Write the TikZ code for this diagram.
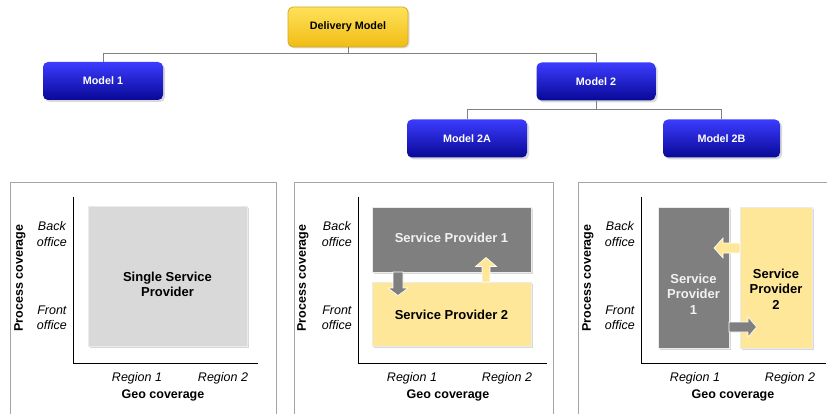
\documentclass[tikz,border=0pt]{standalone}
\usepackage{fontspec}
\setmainfont{Liberation Sans}
\usetikzlibrary{shadows,calc}
\definecolor{bluetop}{RGB}{60,60,255}
\definecolor{bluebot}{RGB}{8,8,150}
\definecolor{goldtop}{RGB}{255,226,90}
\definecolor{goldbot}{RGB}{240,188,20}
\definecolor{golddraw}{RGB}{210,170,40}
\definecolor{spgray}{RGB}{127,127,127}
\definecolor{spyellow}{RGB}{255,231,153}
\definecolor{litegray}{RGB}{217,217,217}
\definecolor{conngray}{RGB}{128,128,128}
\definecolor{framegray}{RGB}{165,165,165}
\begin{document}
\begin{tikzpicture}[x=1pt,y=-1pt,
  modelbox/.style={rectangle, rounded corners=5pt, top color=bluetop, bottom color=bluebot,
    text=white, font=\fontsize{10.8}{12}\selectfont\bfseries, minimum height=38pt,
    drop shadow={shadow xshift=2pt,shadow yshift=-2pt,opacity=0.3}},
  rootbox/.style={rectangle, rounded corners=5pt, top color=goldtop, bottom color=goldbot,
    draw=golddraw, line width=0.8pt, text=black, font=\fontsize{10.8}{12}\selectfont\bfseries,
    minimum width=120pt, minimum height=40pt,
    drop shadow={shadow xshift=1.5pt,shadow yshift=-1.5pt,opacity=0.25}},
  conn/.style={draw=conngray, line width=0.9pt},
  frameline/.style={draw=framegray, line width=0.9pt},
  axisline/.style={draw=black, line width=1pt},
  spbox/.style={rectangle, draw=white!92!black, line width=1pt, inner sep=0pt,
    drop shadow={shadow xshift=1.5pt,shadow yshift=-1.5pt,opacity=0.3}},
  sptext/.style={font=\fontsize{13}{15.5}\selectfont\bfseries, align=center, inner sep=0pt},
  tick/.style={font=\fontsize{12.5}{15.5}\selectfont\itshape, align=center, anchor=east, inner sep=0pt},
  regl/.style={font=\fontsize{12.5}{14}\selectfont\itshape, inner sep=0pt},
  axlab/.style={font=\fontsize{12.5}{14}\selectfont\bfseries, inner sep=0pt},
  blockarrow/.style={draw=white, line width=0.6pt, line join=miter}
]
\useasboundingbox (0,0) rectangle (827,414);

% ---------- tree ----------
\node[rootbox] (dm) at (348,27) {Delivery Model};
\node[modelbox, minimum width=120pt] (m1) at (103,81) {Model 1};
\node[modelbox, minimum width=119pt] (m2) at (596,81.5) {Model 2};
\node[modelbox, minimum width=120pt] (m2a) at (467,138.5) {Model 2A};
\node[modelbox, minimum width=117pt] (m2b) at (721.5,138.5) {Model 2B};

\coordinate (j1) at ($(dm.south)+(0,6)$);
\coordinate (j2) at ($(m2.south)+(0,9)$);
\draw[conn] (dm.south) -- (j1) -| (m1.north);
\draw[conn] (j1) -| (m2.north);
\draw[conn] (m2.south) -- (j2) -| (m2a.north);
\draw[conn] (j2) -| (m2b.north);

% ---------- panel 1 ----------
\draw[frameline] (10,414) -- (10,182) -- (276,182) -- (276,414);
\draw[axisline] (73,197) -- (73,363) -- (258,363);
\node[spbox, fill=litegray, minimum width=159pt, minimum height=139pt] (ssp) at (167.5,276.5) {};
\node[sptext] (ssptxt) at ($(ssp.center)+(0,8)$) {Single Service\\Provider};
\node[tick] (p1back) at (67,234) {Back\\office};
\node[tick] (p1front) at (67,318) {Front\\office};
\node[axlab, rotate=90] (p1pc) at (20,278) {Process coverage};
\node[regl] (p1r1) at (137,378) {Region 1};
\node[regl] (p1r2) at (223,378) {Region 2};
\node[axlab] (p1geo) at (163,395) {Geo coverage};

% ---------- panel 2 ----------
\draw[frameline] (294,414) -- (294,182) -- (553,182) -- (553,414);
\draw[axisline] (358,197) -- (358,363) -- (547,363);
\node[spbox, fill=spgray, minimum width=159pt, minimum height=64pt] (p2sp1) at (451.5,240) {};
\node[sptext, text=white!95!black] (p2sp1txt) at ($(p2sp1.center)+(0,-2.5)$) {Service Provider 1};
\node[spbox, fill=spyellow, minimum width=159pt, minimum height=64pt] (p2sp2) at (451.5,314) {};
\node[sptext, text=black] (p2sp2txt) at ($(p2sp2.center)+(0,1)$) {Service Provider 2};
\filldraw[blockarrow, fill=spgray] (393,272) -- (403,272) -- (403,288) -- (408,288) -- (398,295.5)
  -- (388,288) -- (393,288) -- cycle;
\filldraw[blockarrow, fill=spyellow] (482,282) -- (490,282) -- (490,266.5) -- (496.5,266.5) -- (486,257.5)
  -- (475.5,266.5) -- (482,266.5) -- cycle;
\node[tick] (p2back) at (352,234) {Back\\office};
\node[tick] (p2front) at (352,318) {Front\\office};
\node[axlab, rotate=90] (p2pc) at (303,278) {Process coverage};
\node[regl] (p2r1) at (412,378) {Region 1};
\node[regl] (p2r2) at (507,378) {Region 2};
\node[axlab] (p2geo) at (448,395) {Geo coverage};

% ---------- panel 3 ----------
\draw[frameline] (578,414) -- (578,182) -- (827,182);
\draw[axisline] (641,197) -- (641,363) -- (826,363);
\node[spbox, fill=spgray, minimum width=71pt, minimum height=140pt] (p3sp1) at (693.5,278) {};
\node[sptext, text=white!95!black] (p3sp1txt) at ($(p3sp1.center)+(0,16)$) {Service\\Provider\\1};
\node[spbox, fill=spyellow, minimum width=72pt, minimum height=140pt] (p3sp2) at (776,278) {};
\node[sptext, text=black] (p3sp2txt) at ($(p3sp2.center)+(0,11)$) {Service\\Provider\\2};
\filldraw[blockarrow, fill=spyellow] (740,243) -- (723,243) -- (723,238) -- (714,248) -- (723,258)
  -- (723,253) -- (740,253) -- cycle;
\filldraw[blockarrow, fill=spgray] (729,322) -- (748,322) -- (748,317) -- (756.5,327) -- (748,337)
  -- (748,332) -- (729,332) -- cycle;
\node[tick] (p3back) at (635,234) {Back\\office};
\node[tick] (p3front) at (635,318) {Front\\office};
\node[axlab, rotate=90] (p3pc) at (588,278) {Process coverage};
\node[regl] (p3r1) at (695,378) {Region 1};
\node[regl] (p3r2) at (790,378) {Region 2};
\node[axlab] (p3geo) at (733,395) {Geo coverage};
\end{tikzpicture}
\end{document}
